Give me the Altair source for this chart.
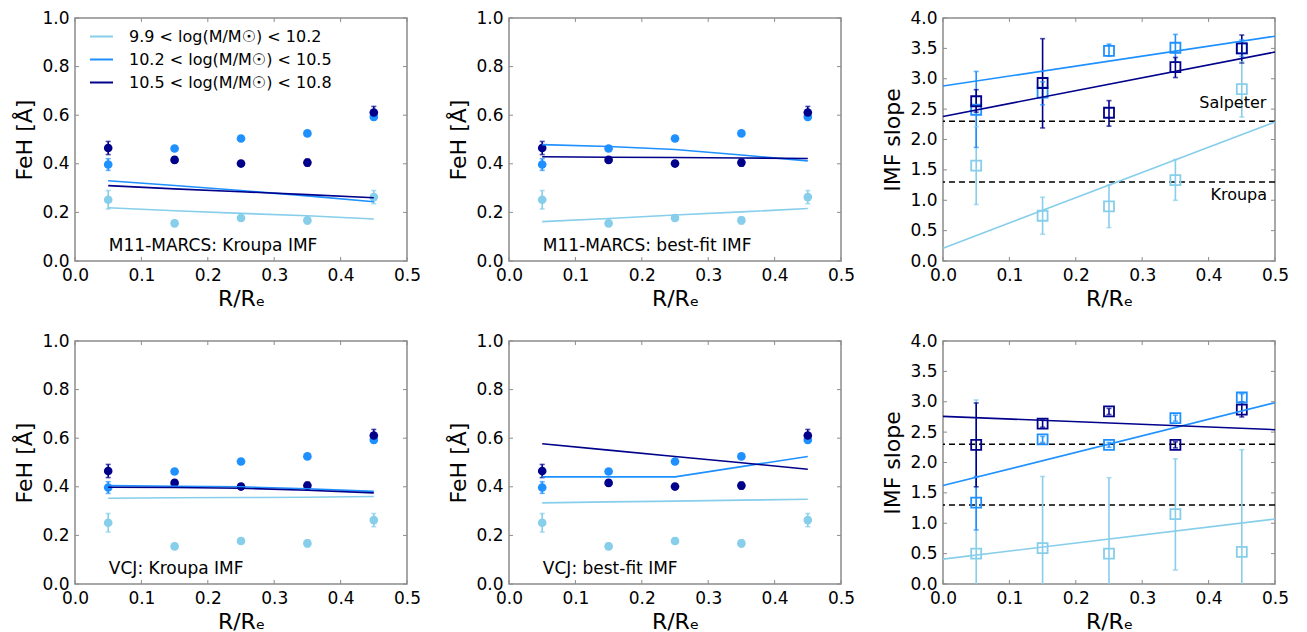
import altair as alt
import pandas as pd

# ---------------- data ----------------
R = [0.05, 0.15, 0.25, 0.35, 0.45]
BINS = ["9.9 < log(M/M☉) < 10.2", "10.2 < log(M/M☉) < 10.5", "10.5 < log(M/M☉) < 10.8"]
COLORS = ["#87CEEB", "#1E90FF", "#00008B"]

# measured FeH (same in the four FeH panels)
feh_low = [0.252, 0.155, 0.177, 0.167, 0.263]
feh_mid = [0.397, 0.463, 0.504, 0.525, 0.593]
feh_high = [0.465, 0.416, 0.401, 0.405, 0.611]
feh_err_low = [0.038, 0.012, 0.012, 0.014, 0.027]
feh_err_mid = [0.024, 0.010, 0.010, 0.010, 0.012]
feh_err_high = [0.027, 0.012, 0.010, 0.014, 0.025]

# model FeH predictions
m11_kroupa_low = [0.219, 0.207, 0.196, 0.186, 0.173]
m11_kroupa_mid = [0.330, 0.311, 0.290, 0.268, 0.244]
m11_kroupa_high = [0.310, 0.297, 0.285, 0.273, 0.260]
m11_best_low = [0.162, 0.175, 0.189, 0.202, 0.216]
m11_best_mid = [0.479, 0.471, 0.459, 0.436, 0.412]
m11_best_high = [0.429, 0.427, 0.426, 0.424, 0.422]
vcj_kroupa_low = [0.353, 0.355, 0.356, 0.357, 0.360]
vcj_kroupa_mid = [0.405, 0.402, 0.400, 0.392, 0.381]
vcj_kroupa_high = [0.398, 0.397, 0.394, 0.386, 0.375]
vcj_best_low = [0.334, 0.338, 0.341, 0.345, 0.349]
vcj_best_mid = [0.441, 0.441, 0.441, 0.483, 0.525]
vcj_best_high = [0.577, 0.551, 0.525, 0.499, 0.472]

# IMF slopes, M11-MARCS
m11_imf_low = [1.57, 0.745, 0.90, 1.33, 2.83]
m11_imf_low_lo = [0.93, 0.44, 0.55, 1.00, 2.37]
m11_imf_low_hi = [2.21, 1.05, 1.25, 1.67, 3.28]
m11_imf_mid = [2.49, 2.77, 3.46, 3.51, 3.50]
m11_imf_mid_lo = [1.87, 2.57, 3.37, 3.28, 3.37]
m11_imf_mid_hi = [3.12, 2.95, 3.57, 3.73, 3.64]
m11_imf_high = [2.63, 2.93, 2.44, 3.19, 3.50]
m11_imf_high_lo = [2.45, 2.19, 2.22, 3.02, 3.26]
m11_imf_high_hi = [2.82, 3.66, 2.64, 3.35, 3.72]

# IMF slopes, VCJ
vcj_imf_low = [0.50, 0.59, 0.50, 1.15, 0.53]
vcj_imf_low_lo = [-2.03, -0.59, -0.75, 0.23, -1.15]
vcj_imf_low_hi = [3.03, 1.77, 1.75, 2.06, 2.21]
vcj_imf_mid = [1.34, 2.38, 2.29, 2.73, 3.07]
vcj_imf_mid_lo = [0.89, 2.33, 2.25, 2.68, 3.00]
vcj_imf_mid_hi = [1.77, 2.43, 2.33, 2.78, 3.13]
vcj_imf_high = [2.29, 2.64, 2.84, 2.29, 2.87]
vcj_imf_high_lo = [1.60, 2.58, 2.79, 2.24, 2.75]
vcj_imf_high_hi = [2.98, 2.70, 2.89, 2.34, 2.99]

# linear fits of IMF slope vs radius
FIT_R = [0.0, 0.5]
m11_fit_low = [0.21, 2.29]
m11_fit_mid = [2.88, 3.70]
m11_fit_high = [2.38, 3.44]
vcj_fit_low = [0.41, 1.07]
vcj_fit_mid = [1.62, 2.985]
vcj_fit_high = [2.76, 2.54]

REF_SLOPES = [2.3, 1.3]
REF_NAMES = ["Salpeter", "Kroupa"]
REF_LABEL_R = [0.487, 0.488]
REF_LABEL_Y = [2.6, 1.09]

PANEL_LABELS = ["M11-MARCS: Kroupa IMF", "M11-MARCS: best-fit IMF",
                "VCJ: Kroupa IMF", "VCJ: best-fit IMF"]
LABEL_R = 0.051
LABEL_FEH = 0.06

X_TICKS = [0.0, 0.1, 0.2, 0.3, 0.4, 0.5]
FEH_TICKS = [0.0, 0.2, 0.4, 0.6, 0.8, 1.0]
IMF_TICKS = [0.0, 0.5, 1.0, 1.5, 2.0, 2.5, 3.0, 3.5, 4.0]

# ---------------- style ----------------
W, H = 332, 243
FONT = "DejaVu Sans"
FRAME = "#8c8c8c"
TICK = 4
cscale = alt.Scale(domain=BINS, range=COLORS)


def points_df(vals, los, his):
    rows = []
    for b, ys, ls, hs in zip(BINS, vals, los, his):
        for r, y, lo, hi in zip(R, ys, ls, hs):
            rows.append({"r": r, "bin": b, "y": y, "lo": lo, "hi": hi})
    return pd.DataFrame(rows)


def feh_points():
    vals = [feh_low, feh_mid, feh_high]
    errs = [feh_err_low, feh_err_mid, feh_err_high]
    los = [[v - e for v, e in zip(vs, es)] for vs, es in zip(vals, errs)]
    his = [[v + e for v, e in zip(vs, es)] for vs, es in zip(vals, errs)]
    return points_df(vals, los, his)


def lines_df(xs, series):
    rows = []
    for b, ys in zip(BINS, series):
        for r, y in zip(xs, ys):
            rows.append({"r": r, "bin": b, "y": y})
    return pd.DataFrame(rows)


def scales(ydomain):
    return (alt.Scale(domain=[0, 0.5], nice=False, zero=False),
            alt.Scale(domain=ydomain, nice=False, zero=False))


def enc_xy(ydomain, yticks, ytitle):
    xs, ys = scales(ydomain)
    xax = alt.Axis(values=X_TICKS, format=".1f", labelFlush=False)
    yax = alt.Axis(values=yticks, format=".1f", labelFlush=False)

    def X(f):
        return alt.X(f, type="quantitative", scale=xs, axis=xax, title="R/Rₑ")

    def Y(f):
        return alt.Y(f, type="quantitative", scale=ys, axis=yax, title=ytitle)
    return X, Y


def panel(pts, lns, ytitle, ydomain, yticks, square, label=None, refs=False,
          ref_labels=False, legend=False):
    X, Y = enc_xy(ydomain, yticks, ytitle)
    C = alt.Color("bin:N", scale=cscale, legend=None)
    layers = []

    if refs:
        rdf = pd.DataFrame({"y": REF_SLOPES})
        layers.append(alt.Chart(rdf).mark_rule(color="black", strokeWidth=1.6,
                                               strokeDash=[6, 4]).encode(y=Y("y")))

    base = alt.Chart(pts)
    layers.append(base.mark_rule(strokeWidth=1.6, clip=True).encode(
        x=X("r"), y=Y("lo"), y2="hi", color=C))
    layers.append(base.mark_tick(orient="horizontal", size=5, thickness=1.6, clip=True).encode(
        x=X("r"), y=Y("lo"), color=C))
    layers.append(base.mark_tick(orient="horizontal", size=5, thickness=1.6, clip=True).encode(
        x=X("r"), y=Y("hi"), color=C))
    if square:
        layers.append(base.mark_point(shape="square", filled=False, size=100,
                                      strokeWidth=1.8, opacity=1).encode(
            x=X("r"), y=Y("y"), color=C))
    else:
        layers.append(base.mark_circle(size=75, opacity=1).encode(
            x=X("r"), y=Y("y"), color=C))

    if legend:
        LC = alt.Color("bin:N", scale=cscale, legend=alt.Legend(
            orient="none", legendX=14, legendY=6, title=None, symbolType="stroke",
            symbolSize=529, symbolStrokeWidth=2, labelFont=FONT, labelFontSize=16,
            labelColor="black", labelOffset=15, rowPadding=2, padding=0, labelLimit=400))
    else:
        LC = C
    layers.append(alt.Chart(lns).mark_line(strokeWidth=1.6).encode(
        x=X("r"), y=Y("y"), color=LC, detail="bin:N"))

    if label is not None:
        tdf = pd.DataFrame({"r": [LABEL_R], "y": [LABEL_FEH], "t": [label]})
        layers.append(alt.Chart(tdf).mark_text(align="left", baseline="middle", font=FONT,
                                               fontSize=17, color="black").encode(
            x=X("r"), y=Y("y"), text="t:N"))

    if ref_labels:
        tdf = pd.DataFrame({"r": REF_LABEL_R, "y": REF_LABEL_Y, "t": REF_NAMES})
        layers.append(alt.Chart(tdf).mark_text(align="right", baseline="middle", font=FONT,
                                               fontSize=16, color="black").encode(
            x=X("r"), y=Y("y"), text="t:N"))

    # inward ticks on all four sides
    tx = alt.Chart(pd.DataFrame({"t": X_TICKS}))
    ty = alt.Chart(pd.DataFrame({"t": yticks}))
    layers.append(tx.mark_rule(color=FRAME, strokeWidth=1).encode(
        x=X("t"), y=alt.value(H), y2=alt.value(H - TICK)))
    layers.append(tx.mark_rule(color=FRAME, strokeWidth=1).encode(
        x=X("t"), y=alt.value(0), y2=alt.value(TICK)))
    layers.append(ty.mark_rule(color=FRAME, strokeWidth=1).encode(
        y=Y("t"), x=alt.value(0), x2=alt.value(TICK)))
    layers.append(ty.mark_rule(color=FRAME, strokeWidth=1).encode(
        y=Y("t"), x=alt.value(W - TICK), x2=alt.value(W)))

    ch = alt.layer(*layers).properties(width=W, height=H)
    if legend:
        ch = ch.resolve_scale(color="independent")
    return ch


fp = feh_points()
p1 = panel(fp, lines_df(R, [m11_kroupa_low, m11_kroupa_mid, m11_kroupa_high]),
           "FeH [Å]", [0, 1], FEH_TICKS, False, label=PANEL_LABELS[0], legend=True)
p2 = panel(fp, lines_df(R, [m11_best_low, m11_best_mid, m11_best_high]),
           "FeH [Å]", [0, 1], FEH_TICKS, False, label=PANEL_LABELS[1])
p3 = panel(points_df([m11_imf_low, m11_imf_mid, m11_imf_high],
                     [m11_imf_low_lo, m11_imf_mid_lo, m11_imf_high_lo],
                     [m11_imf_low_hi, m11_imf_mid_hi, m11_imf_high_hi]),
           lines_df(FIT_R, [m11_fit_low, m11_fit_mid, m11_fit_high]),
           "IMF slope", [0, 4], IMF_TICKS, True, refs=True, ref_labels=True)
p4 = panel(fp, lines_df(R, [vcj_kroupa_low, vcj_kroupa_mid, vcj_kroupa_high]),
           "FeH [Å]", [0, 1], FEH_TICKS, False, label=PANEL_LABELS[2])
p5 = panel(fp, lines_df(R, [vcj_best_low, vcj_best_mid, vcj_best_high]),
           "FeH [Å]", [0, 1], FEH_TICKS, False, label=PANEL_LABELS[3])
p6 = panel(points_df([vcj_imf_low, vcj_imf_mid, vcj_imf_high],
                     [vcj_imf_low_lo, vcj_imf_mid_lo, vcj_imf_high_lo],
                     [vcj_imf_low_hi, vcj_imf_mid_hi, vcj_imf_high_hi]),
           lines_df(FIT_R, [vcj_fit_low, vcj_fit_mid, vcj_fit_high]),
           "IMF slope", [0, 4], IMF_TICKS, True, refs=True)

chart = alt.concat(p1, p2, p3, p4, p5, p6, columns=3,
                   spacing={"row": 80, "column": 102}, bounds="flush").resolve_scale(
    color="independent", x="independent", y="independent"
).properties(
    padding={"left": 5, "top": 0, "right": 5, "bottom": 5}
).configure_view(
    stroke=FRAME, strokeWidth=1.5
).configure_axis(
    labelFont=FONT, titleFont=FONT, labelFontSize=17, titleFontSize=22,
    titleFontWeight="normal", labelColor="black", titleColor="black",
    ticks=False, tickSize=0, domain=False, grid=False, labelPadding=6, titlePadding=5,
    labelOverlap=False
)

chart.save("out.html", embed_options={"renderer": "svg", "actions": False})
